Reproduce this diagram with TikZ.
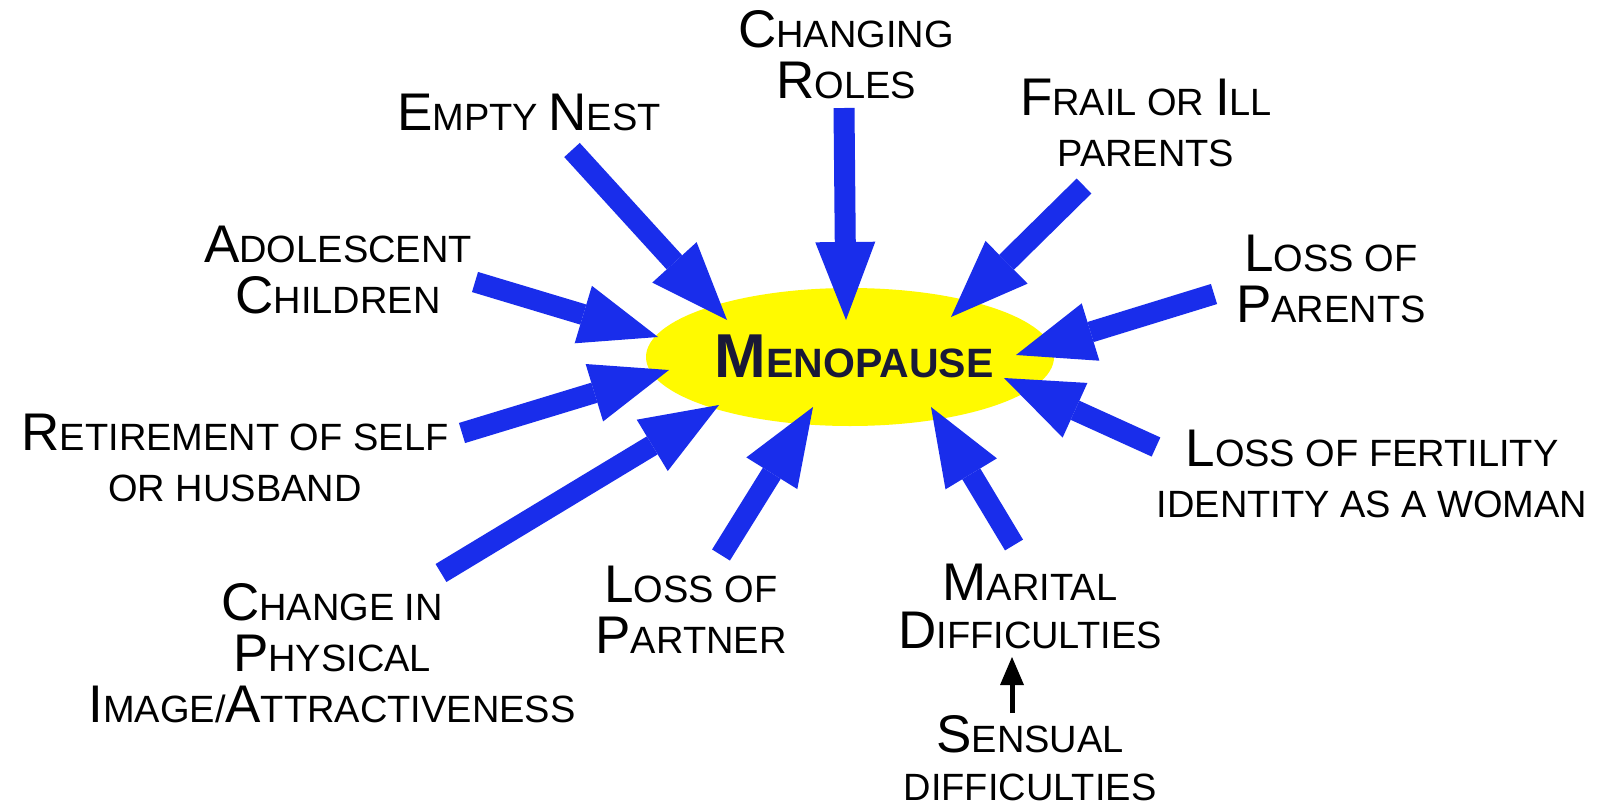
\documentclass[tikz,border=0pt]{standalone}
\usepackage{fontspec}
\setmainfont{Liberation Sans}
\usetikzlibrary{arrows.meta,shapes.geometric}
\definecolor{arrowblue}{RGB}{25,45,235}
\definecolor{ellyellow}{RGB}{255,250,0}
\definecolor{menonavy}{RGB}{25,25,55}
\newcommand\Bg[1]{{\fontsize{53}{51}\selectfont #1}}
\newcommand\Bm[1]{{\fontsize{62}{60}\selectfont #1}}
\begin{document}
\begin{tikzpicture}[x=1pt,y=-1pt,
  lbl/.style={align=center, anchor=base, inner sep=0pt, font=\fontsize{38}{51}\selectfont},
  lbltight/.style={lbl, font=\fontsize{38}{48}\selectfont},
  bigarrow/.style={color=arrowblue, line width=21pt, -{Triangle[length=78pt,width=60pt,line width=0pt]}},
  smallarrow/.style={color=black, line width=5pt, -{Triangle[length=28pt,width=24pt,line width=0pt]}}]
\useasboundingbox[fill=white] (0,0) rectangle (1601,806);
% central ellipse
\node[ellipse, fill=ellyellow, minimum width=408pt, minimum height=138pt, inner sep=0pt] (ell) at (850,357) {};
% labels (anchor = baseline of the last line)
\node[lbl] (roles) at (846,98) {\Bg{C}HANGING\\\Bg{R}OLES};
\node[lbl] (nest) at (529,130) {\Bg{E}MPTY \Bg{N}EST};
\node[lbl] (frail) at (1146,166) {\Bg{F}RAIL OR \Bg{I}LL\\PARENTS};
\node[lbl] (lparents) at (1331,322) {\Bg{L}OSS OF\\\Bg{P}ARENTS};
\node[lbl] (fert) at (1372,517) {\Bg{L}OSS OF FERTILITY\\IDENTITY AS A WOMAN};
\node[lbltight] (marital) at (1030,648) {\Bg{M}ARITAL\\\Bg{D}IFFICULTIES};
\node[lbltight] (sensual) at (1030,800) {\Bg{S}ENSUAL\\DIFFICULTIES};
\node[lbl] (partner) at (691,653) {\Bg{L}OSS OF\\\Bg{P}ARTNER};
\node[lbl] (image) at (332,722) {\Bg{C}HANGE IN\\\Bg{P}HYSICAL\\\Bg{I}MAGE/\Bg{A}TTRACTIVENESS};
\node[lbl] (retire) at (235,501) {\Bg{R}ETIREMENT OF SELF\\OR HUSBAND};
\node[lbl] (adol) at (338,313) {\Bg{A}DOLESCENT\\\Bg{C}HILDREN};
% arrow ends
\coordinate (rolesT) at (844,108);   \coordinate (rolesH) at (846,320);
\coordinate (nestT) at (572,150);    \coordinate (nestH) at (727,320);
\coordinate (frailT) at (1084,186);  \coordinate (frailH) at (951,317);
\coordinate (lparT) at (1214,294);   \coordinate (lparH) at (1016,355);
\coordinate (fertT) at (1156,447);   \coordinate (fertH) at (1004,378);
\coordinate (maritT) at (1014,545);  \coordinate (maritH) at (931,407);
\coordinate (partT) at (721,555);    \coordinate (partH) at (813,407);
\coordinate (imgT) at (441,573);     \coordinate (imgH) at (719,405);
\coordinate (retT) at (462,433);     \coordinate (retH) at (669,370);
\coordinate (adolT) at (475,282);    \coordinate (adolH) at (658,337);
\coordinate (sensT) at (1012,713);   \coordinate (sensH) at (1012,657);
% arrows
\draw[bigarrow] (rolesT) -- (rolesH);
\draw[bigarrow] (nestT) -- (nestH);
\draw[bigarrow] (frailT) -- (frailH);
\draw[bigarrow] (lparT) -- (lparH);
\draw[bigarrow] (fertT) -- (fertH);
\draw[bigarrow] (maritT) -- (maritH);
\draw[bigarrow] (partT) -- (partH);
\draw[bigarrow] (imgT) -- (imgH);
\draw[bigarrow] (retT) -- (retH);
\draw[bigarrow] (adolT) -- (adolH);
\draw[smallarrow] (sensT) -- (sensH);
% centre text
\node[anchor=base, inner sep=0pt, text=menonavy, font=\bfseries\fontsize{41}{41}\selectfont] (meno) at (854,377) {\Bm{M}ENOPAUSE};
\end{tikzpicture}
\end{document}
